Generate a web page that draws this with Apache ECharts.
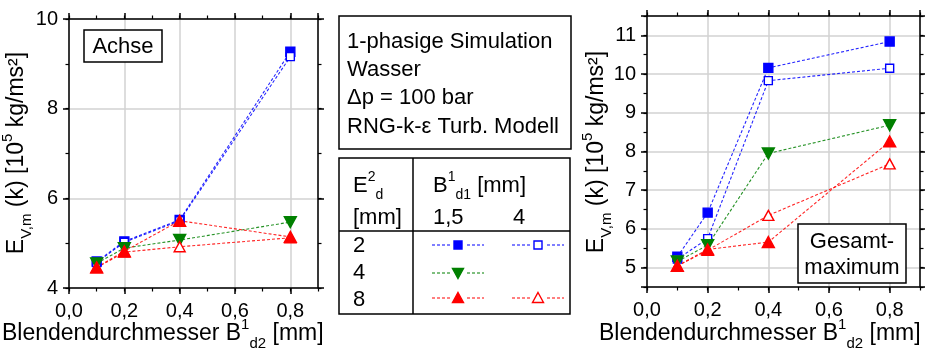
<!DOCTYPE html>
<html>
<head>
<meta charset="utf-8">
<script src="https://cdn.jsdelivr.net/npm/echarts@6/dist/echarts.min.js"></script>
<style>
  html, body { margin: 0; padding: 0; background: #fff; }
  #chart { width: 925px; height: 350px; }
</style>
</head>
<body>
<div id="chart"></div>
<script>
// Orifice diameter B1_d2 [mm]
const diameters = [0.1, 0.2, 0.4, 0.8];

// Axis centre ("Achse"), E_V,m(k) in 10^5 kg/ms²
const achse_E2_B15 = [4.59, 5.04, 5.52, 9.27];
const achse_E2_B4  = [4.57, 5.02, 5.50, 9.16];
const achse_E4_B15 = [4.55, 4.89, 5.07, 5.47];
const achse_E8_B4  = [4.45, 4.80, 4.92, 5.12];
const achse_E8_B15 = [4.46, 4.82, 5.50, 5.14];

// Overall maximum ("Gesamtmaximum")
const gesamt_E2_B15 = [5.28, 6.42, 10.16, 10.84];
const gesamt_E2_B4  = [5.22, 5.75, 9.83, 10.15];
const gesamt_E4_B15 = [5.16, 5.58, 7.95, 8.68];
const gesamt_E8_B4  = [5.04, 5.45, 6.35, 7.68];
const gesamt_E8_B15 = [5.05, 5.47, 5.66, 8.26];

// Tick labels
const xTicks = [0.0, 0.2, 0.4, 0.6, 0.8];
const yTicksAchse = [4, 6, 8, 10];
const yTicksGesamt = [5, 6, 7, 8, 9, 10, 11];

const FONT = "'Liberation Sans', Arial, Helvetica, sans-serif";
const BLUE = '#0000ff', GREEN = '#008000', RED = '#ff0000';
const GRIDLINE = '#d2d2d2';

const pairs = ys => diameters.map((x, i) => [x, ys[i]]);

function xLabel(v) {
  return xTicks.some(t => Math.abs(t - v) < 1e-9) ? v.toFixed(1).replace('.', ',') : '';
}
function yLabelFrom(list) {
  return v => list.some(t => Math.abs(t - v) < 1e-9) ? String(v) : '';
}

// One plot frame = main axis with labels + grid, minor tick axis, mirrored axis on the opposite side
function xAxesFor(gridIndex) {
  const base = { type: 'value', gridIndex, min: 0, max: 0.9 };
  const line = { show: true, onZero: false, lineStyle: { color: '#000', width: 1.5 } };
  return [
    Object.assign({}, base, {
      position: 'bottom', interval: 0.2,
      axisLine: line,
      axisTick: { show: true, length: 6, lineStyle: { color: '#000', width: 1.5 } },
      axisLabel: { show: true, formatter: xLabel, fontSize: 20, fontFamily: FONT, color: '#000', margin: 13, showMaxLabel: false },
      splitLine: { show: true, lineStyle: { color: GRIDLINE, width: 1.5 } }
    }),
    Object.assign({}, base, {
      position: 'bottom', interval: 0.1,
      axisLine: { show: false, onZero: false },
      axisTick: { show: true, length: 3.5, lineStyle: { color: '#000', width: 1.2 } },
      axisLabel: { show: false }, splitLine: { show: false }
    }),
    Object.assign({}, base, {
      position: 'top', interval: 0.2,
      axisLine: line,
      axisTick: { show: true, length: 6, lineStyle: { color: '#000', width: 1.5 } },
      axisLabel: { show: false }, splitLine: { show: false }
    }),
    Object.assign({}, base, {
      position: 'top', interval: 0.1,
      axisLine: { show: false, onZero: false },
      axisTick: { show: true, length: 3.5, lineStyle: { color: '#000', width: 1.2 } },
      axisLabel: { show: false }, splitLine: { show: false }
    })
  ];
}

function yAxesFor(gridIndex, min, max, major, minor, labels) {
  const base = { type: 'value', gridIndex, min, max };
  const line = { show: true, onZero: false, lineStyle: { color: '#000', width: 1.5 } };
  const majorSpacing = major ? { interval: major } : { splitNumber: Math.round(max - min) };
  return [
    Object.assign({}, base, majorSpacing, {
      position: 'left',
      axisLine: line,
      axisTick: { show: true, length: 6, lineStyle: { color: '#000', width: 1.5 } },
      axisLabel: { show: true, formatter: yLabelFrom(labels), fontSize: 20, fontFamily: FONT, color: '#000', margin: 11 },
      splitLine: { show: true, lineStyle: { color: GRIDLINE, width: 1.5 } }
    }),
    Object.assign({}, base, {
      position: 'left', interval: minor,
      axisLine: { show: false, onZero: false },
      axisTick: { show: true, length: 3.5, lineStyle: { color: '#000', width: 1.2 } },
      axisLabel: { show: false }, splitLine: { show: false }
    }),
    Object.assign({}, base, majorSpacing, {
      position: 'right',
      axisLine: line,
      axisTick: { show: true, length: 6, lineStyle: { color: '#000', width: 1.5 } },
      axisLabel: { show: false }, splitLine: { show: false }
    }),
    Object.assign({}, base, {
      position: 'right', interval: minor,
      axisLine: { show: false, onZero: false },
      axisTick: { show: true, length: 3.5, lineStyle: { color: '#000', width: 1.2 } },
      axisLabel: { show: false }, splitLine: { show: false }
    })
  ];
}

const DASH = [3, 2];
function seriesOf(name, ys, axisIdx, kind) {
  const styles = {
    blueFilled: { symbol: 'rect', size: 9, rotate: 0, fill: BLUE, stroke: BLUE, color: BLUE },
    blueOpen:   { symbol: 'rect', size: 8, rotate: 0, fill: '#fff', stroke: BLUE, color: BLUE },
    greenDown:  { symbol: 'triangle', size: [12, 11], rotate: 180, fill: GREEN, stroke: GREEN, color: GREEN },
    redOpen:    { symbol: 'triangle', size: [11, 10], rotate: 0, fill: '#fff', stroke: RED, color: RED },
    redFilled:  { symbol: 'triangle', size: [12, 11], rotate: 0, fill: RED, stroke: RED, color: RED }
  };
  const s = styles[kind];
  return {
    name, type: 'line', data: pairs(ys),
    xAxisIndex: axisIdx, yAxisIndex: axisIdx,
    symbol: s.symbol, symbolSize: s.size, symbolRotate: s.rotate,
    showAllSymbol: true, silent: true,
    lineStyle: { color: s.color, width: 1.1, type: DASH, opacity: 0.85 },
    itemStyle: { color: s.fill, borderColor: s.stroke, borderWidth: 1.4 }
  };
}

// Rich text styles for sub-/superscripts
const RICH = {
  n:   { fontSize: 22, fontFamily: FONT, color: '#000', lineHeight: 32 },
  t:   { fontSize: 23, fontFamily: FONT, color: '#000', lineHeight: 34 },
  sup: { fontSize: 14, fontFamily: FONT, color: '#000', verticalAlign: 'top', lineHeight: 16 },
  sub: { fontSize: 14, fontFamily: FONT, color: '#000', verticalAlign: 'bottom', lineHeight: 16 },
  tsup: { fontSize: 15, fontFamily: FONT, color: '#000', verticalAlign: 'top', lineHeight: 17 },
  tsub: { fontSize: 15, fontFamily: FONT, color: '#000', verticalAlign: 'bottom', lineHeight: 17 }
};
const yTitle = '{t|E}{tsub|V,m}{t| (k) [10}{tsup|5}{t| kg/ms²]}';
const xTitle = '{t|Blendendurchmesser B}{tsup|1}{tsub|d2}{t| [mm]}';

const TOP = 100; // keep annotation boxes above gridlines and series

function richText(x, y, text, align, rotation) {
  return {
    type: 'text', x, y, rotation: rotation || 0, silent: true, z: TOP,
    style: { text, rich: RICH, textAlign: align, textVerticalAlign: 'middle', fill: '#000' }
  };
}
function plainText(x, y, text, align) {
  return {
    type: 'text', x, y, silent: true, z: TOP + 1,
    style: { text, font: '22px ' + FONT, textAlign: align || 'left', textVerticalAlign: 'middle', fill: '#000' }
  };
}
function box(x, y, w, h) {
  return { type: 'rect', silent: true, z: TOP, shape: { x, y, width: w, height: h }, style: { fill: '#fff', stroke: '#000', lineWidth: 1.5 } };
}
function seg(x1, y1, x2, y2, color, dash) {
  return { type: 'line', silent: true, z: TOP + 1, shape: { x1, y1, x2, y2 }, style: { stroke: color, lineWidth: dash ? 1.1 : 1.5, lineDash: dash || null } };
}
function legendSample(cx, cy, color, marker, open) {
  const items = [seg(cx - 26, cy, cx - 8, cy, color, DASH), seg(cx + 9, cy, cx + 26, cy, color, DASH)];
  const fill = open ? '#fff' : color;
  if (marker === 'square') {
    items.push({ type: 'rect', silent: true, z: TOP + 2, shape: { x: cx - 4, y: cy - 4, width: 8, height: 8 }, style: { fill, stroke: color, lineWidth: 1.4 } });
  } else if (marker === 'up') {
    items.push({ type: 'polygon', silent: true, z: TOP + 2, shape: { points: [[cx, cy - 5.5], [cx + 5.5, cy + 4.5], [cx - 5.5, cy + 4.5]] }, style: { fill, stroke: color, lineWidth: 1.4 } });
  } else {
    items.push({ type: 'polygon', silent: true, z: TOP + 2, shape: { points: [[cx, cy + 5.5], [cx + 5.5, cy - 4.5], [cx - 5.5, cy - 4.5]] }, style: { fill, stroke: color, lineWidth: 1.4 } });
  }
  return items;
}

const graphics = [
  // plot notes
  box(84, 30, 78, 32), plainText(123, 46.5, 'Achse', 'center'),
  box(798, 224, 108, 59), plainText(852, 242, 'Gesamt-', 'center'), plainText(852, 268, 'maximum', 'center'),
  // axis titles
  richText(2, 334, xTitle, 'left'),
  richText(599, 334, xTitle, 'left'),
  richText(17, 153, yTitle, 'center', Math.PI / 2),
  richText(597, 152, yTitle, 'center', Math.PI / 2),
  // simulation description
  box(339, 16, 232, 133),
  plainText(347, 42, '1-phasige Simulation'),
  plainText(347, 70, 'Wasser'),
  plainText(347, 98, 'Δp = 100 bar'),
  plainText(347, 127, 'RNG-k-ε Turb. Modell'),
  // legend table
  box(339, 158, 231, 156),
  seg(413, 158, 413, 314, '#000'),
  seg(339, 231, 570, 231, '#000'),
  richText(353, 186, '{n|E}{sup|2}{sub|d}', 'left'),
  plainText(353, 218, '[mm]'),
  richText(433, 186, '{n|B}{sup|1}{sub|d1}{n| [mm]}', 'left'),
  plainText(433, 218, '1,5'),
  plainText(513, 218, '4'),
  plainText(353, 246, '2'),
  plainText(353, 273, '4'),
  plainText(353, 300, '8')
].concat(
  legendSample(458, 245, BLUE, 'square', false),
  legendSample(538, 245, BLUE, 'square', true),
  legendSample(458, 273, GREEN, 'down', false),
  legendSample(458, 298, RED, 'up', false),
  legendSample(538, 298, RED, 'up', true)
);

const option = {
  animation: false,
  backgroundColor: '#fff',
  textStyle: { fontFamily: FONT },
  grid: [
    { left: 69, top: 19, width: 249, height: 269, containLabel: false },
    { left: 647, top: 16, width: 273, height: 271, containLabel: false }
  ],
  xAxis: xAxesFor(0).concat(xAxesFor(1)),
  yAxis: yAxesFor(0, 4, 10, 2, 1, yTicksAchse).concat(yAxesFor(1, 4.5, 11.5, null, 0.5, yTicksGesamt)),
  series: [
    seriesOf('E2 B1,5', achse_E2_B15, 0, 'blueFilled'),
    seriesOf('E2 B4', achse_E2_B4, 0, 'blueOpen'),
    seriesOf('E4 B1,5', achse_E4_B15, 0, 'greenDown'),
    seriesOf('E8 B4', achse_E8_B4, 0, 'redOpen'),
    seriesOf('E8 B1,5', achse_E8_B15, 0, 'redFilled'),
    seriesOf('E2 B1,5', gesamt_E2_B15, 4, 'blueFilled'),
    seriesOf('E2 B4', gesamt_E2_B4, 4, 'blueOpen'),
    seriesOf('E4 B1,5', gesamt_E4_B15, 4, 'greenDown'),
    seriesOf('E8 B4', gesamt_E8_B4, 4, 'redOpen'),
    seriesOf('E8 B1,5', gesamt_E8_B15, 4, 'redFilled')
  ],
  graphic: graphics
};

const chart = echarts.init(document.getElementById('chart'), null, { renderer: 'canvas' });
chart.setOption(option);
</script>
</body>
</html>
